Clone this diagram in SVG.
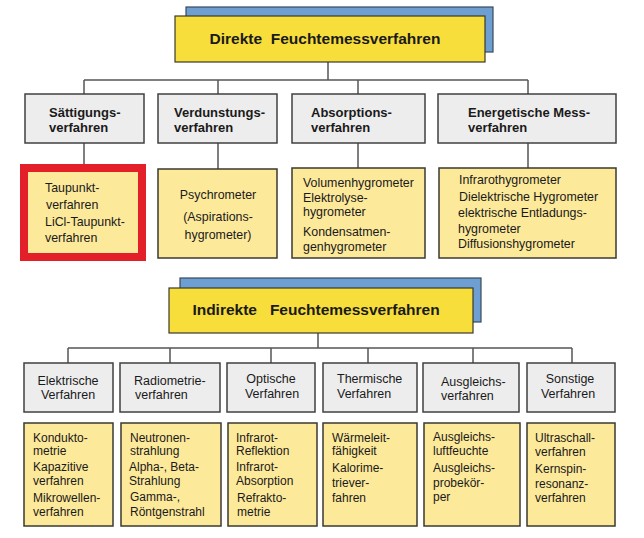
<svg xmlns="http://www.w3.org/2000/svg" width="644" height="538" viewBox="0 0 644 538">
<style>
text{font-family:"Liberation Sans",Arial,sans-serif;fill:#1a1a1a}
.ttl{font-size:15.5px;font-weight:bold;white-space:pre}
.h2{font-size:13px;font-weight:bold}
.h2n{font-size:12.5px}
.t3{font-size:12px}
.t3b{font-size:12.4px}
.blue{fill:#6E9FD2;stroke:#3a4a5a;stroke-width:1.2}
.yel{fill:#F7DE3A;stroke:#3a3a2a;stroke-width:1.2}
.gray{fill:#EDEDED;stroke:#404040;stroke-width:1.5}
.ly{fill:#FDE99A;stroke:#3a3a30;stroke-width:1.5}
.red{fill:#FDE99A;stroke:#E3202A;stroke-width:8}
.c{text-anchor:middle}
#connectors path{fill:none;stroke:#555;stroke-width:1.5}
</style>
<rect width="644" height="538" fill="#fff"/>
<g id="connectors">
<path d="M328 62V80M84 80H528M84 80V94M218 80V94M358 80V94M528 80V94"/>
<path d="M84 143V164M218 143V169M358 143V168M528 143V168"/>
<path d="M318 333V348M68 348H572M68 348V363M170 348V363M271 348V363M368 348V363M473 348V363M572 348V363"/>
</g>
<g id="title-direkt">
<rect class="blue" x="186" y="7" width="307" height="45"/>
<rect class="yel" x="175" y="16" width="310" height="46"/>
<text class="ttl c" x="325" y="44">Direkte  Feuchtemessverfahren</text>
</g>
<g id="saettigung">
<rect class="gray" x="25" y="94" width="119" height="49"/>
<text class="h2" x="49" y="117">Sättigungs-</text>
<text class="h2" x="49" y="132">verfahren</text>
</g>
<g id="verdunstung">
<rect class="gray" x="158" y="94" width="119" height="49"/>
<text class="h2" x="174" y="117">Verdunstungs-</text>
<text class="h2" x="174" y="132">verfahren</text>
</g>
<g id="absorption">
<rect class="gray" x="292" y="94" width="133" height="49"/>
<text class="h2" x="311" y="117">Absorptions-</text>
<text class="h2" x="311" y="132">verfahren</text>
</g>
<g id="energetisch">
<rect class="gray" x="438" y="94" width="178" height="49"/>
<text class="h2" x="468" y="117">Energetische Mess-</text>
<text class="h2" x="468" y="132">verfahren</text>
</g>
<g id="taupunkt">
<rect class="red" x="24" y="168" width="118" height="89"/>
<text class="t3b" x="45" y="192">Taupunkt-</text>
<text class="t3b" x="46" y="209">verfahren</text>
<text class="t3b" x="45" y="226">LiCl-Taupunkt-</text>
<text class="t3b" x="45" y="242">verfahren</text>
</g>
<g id="psychrometer">
<rect class="ly" x="158" y="169" width="119" height="89"/>
<text class="t3b c" x="218" y="199">Psychrometer</text>
<text class="t3b c" x="218" y="221">(Aspirations-</text>
<text class="t3b c" x="218" y="239">hygrometer)</text>
</g>
<g id="volumen">
<rect class="ly" x="292" y="168" width="133" height="90"/>
<text class="t3b" x="303" y="187">Volumenhygrometer</text>
<text class="t3b" x="303" y="202">Elektrolyse-</text>
<text class="t3b" x="303" y="216">hygrometer</text>
<text class="t3b" x="303" y="236">Kondensatmen-</text>
<text class="t3b" x="303" y="251">genhygrometer</text>
</g>
<g id="infrarot">
<rect class="ly" x="439" y="168" width="177" height="90"/>
<text class="t3b" x="459" y="184">Infrarothygrometer</text>
<text class="t3b" x="459" y="201">Dielektrische Hygrometer</text>
<text class="t3b" x="458" y="217">elektrische Entladungs-</text>
<text class="t3b" x="458" y="233">hygrometer</text>
<text class="t3b" x="458" y="248">Diffusionshygrometer</text>
</g>
<g id="title-indirekt">
<rect class="blue" x="180" y="278" width="301" height="44"/>
<rect class="yel" x="169" y="288" width="304" height="45"/>
<text class="ttl c" x="316" y="315">Indirekte   Feuchtemessverfahren</text>
</g>
<g id="elektrisch">
<rect class="gray" x="24" y="363" width="89" height="49"/>
<text class="h2n c" x="68" y="385">Elektrische</text>
<text class="h2n c" x="68" y="399">Verfahren</text>
</g>
<g id="radiometrie">
<rect class="gray" x="120" y="363" width="100" height="49"/>
<text class="h2n" x="134" y="385">Radiometrie-</text>
<text class="h2n" x="135" y="399">verfahren</text>
</g>
<g id="optisch">
<rect class="gray" x="227" y="363" width="88" height="49"/>
<text class="h2n c" x="271" y="383">Optische</text>
<text class="h2n c" x="272" y="398">Verfahren</text>
</g>
<g id="thermisch">
<rect class="gray" x="323" y="363" width="94" height="49"/>
<text class="h2n" x="337" y="383">Thermische</text>
<text class="h2n" x="337" y="398">Verfahren</text>
</g>
<g id="ausgleich">
<rect class="gray" x="423" y="363" width="96" height="49"/>
<text class="h2n" x="441" y="386">Ausgleichs-</text>
<text class="h2n" x="441" y="400">verfahren</text>
</g>
<g id="sonstig">
<rect class="gray" x="527" y="363" width="88" height="49"/>
<text class="h2n c" x="570" y="383">Sonstige</text>
<text class="h2n c" x="568" y="398">Verfahren</text>
</g>
<g id="elektrisch-list">
<rect class="ly" x="24" y="423" width="89" height="103"/>
<text class="t3" x="33" y="442">Kondukto-</text>
<text class="t3" x="33" y="455">metrie</text>
<text class="t3" x="33" y="471">Kapazitive</text>
<text class="t3" x="33" y="485">verfahren</text>
<text class="t3" x="33" y="502">Mikrowellen-</text>
<text class="t3" x="33" y="516">verfahren</text>
</g>
<g id="radiometrie-list">
<rect class="ly" x="121" y="423" width="100" height="103"/>
<text class="t3" x="130" y="442">Neutronen-</text>
<text class="t3" x="130" y="455">strahlung</text>
<text class="t3" x="129" y="471">Alpha-, Beta-</text>
<text class="t3" x="129" y="485">Strahlung</text>
<text class="t3" x="130" y="501">Gamma-,</text>
<text class="t3" x="130" y="516">Röntgenstrahl</text>
</g>
<g id="optisch-list">
<rect class="ly" x="228" y="423" width="89" height="103"/>
<text class="t3" x="236" y="442">Infrarot-</text>
<text class="t3" x="236" y="455">Reflektion</text>
<text class="t3" x="236" y="471">Infrarot-</text>
<text class="t3" x="236" y="485">Absorption</text>
<text class="t3" x="237" y="502">Refrakto-</text>
<text class="t3" x="237" y="516">metrie</text>
</g>
<g id="thermisch-list">
<rect class="ly" x="323" y="423" width="94" height="103"/>
<text class="t3" x="332" y="442">Wärmeleit-</text>
<text class="t3" x="332" y="455">fähigkeit</text>
<text class="t3" x="332" y="472">Kalorime-</text>
<text class="t3" x="332" y="487">triever-</text>
<text class="t3" x="332" y="502">fahren</text>
</g>
<g id="ausgleich-list">
<rect class="ly" x="424" y="423" width="96" height="103"/>
<text class="t3" x="433" y="441">Ausgleichs-</text>
<text class="t3" x="433" y="455">luftfeuchte</text>
<text class="t3" x="433" y="472">Ausgleichs-</text>
<text class="t3" x="433" y="487">probekör-</text>
<text class="t3" x="433" y="501">per</text>
</g>
<g id="sonstig-list">
<rect class="ly" x="527" y="423" width="88" height="103"/>
<text class="t3" x="535" y="442">Ultraschall-</text>
<text class="t3" x="535" y="456">verfahren</text>
<text class="t3" x="535" y="473">Kernspin-</text>
<text class="t3" x="535" y="488">resonanz-</text>
<text class="t3" x="535" y="502">verfahren</text>
</g>
</svg>
